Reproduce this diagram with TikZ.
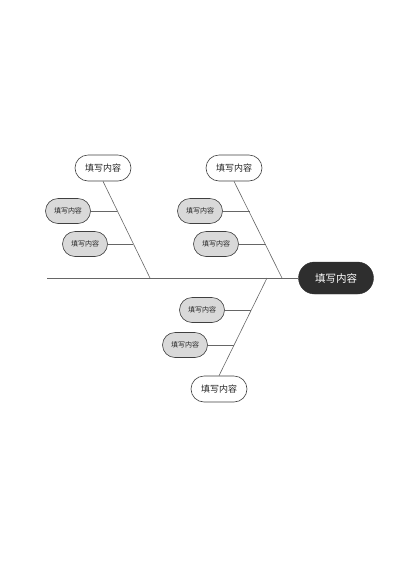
\documentclass[tikz,border=0pt]{standalone}
\usepackage{fontspec}
\newfontfamily\cjk{Noto Sans CJK SC}
\begin{document}
\begin{tikzpicture}[x=1pt,y=-1pt,
  bone/.style={draw=black!60, line width=0.6pt},
  cause/.style={draw=black!75, line width=0.6pt, fill=white, rounded corners=13pt,
    minimum width=56pt, minimum height=26pt, inner sep=0pt, font=\cjk\fontsize{9}{10}\selectfont, text=black!85},
  sub/.style={draw=black!75, line width=0.6pt, fill=black!15, rounded corners=12.5pt,
    minimum width=45pt, minimum height=25pt, inner sep=0pt, font=\cjk\fontsize{7}{8}\selectfont, text=black!85},
  headbox/.style={fill=black!82, draw=black!82, rounded corners=16pt,
    minimum width=75pt, minimum height=32pt, inner sep=0pt, font=\cjk\fontsize{10.5}{12}\selectfont, text=white}]
\useasboundingbox (0,0) rectangle (400,566);
% head
\node[headbox] (head) at (336,278) {填写内容};
\coordinate (tail) at (47,278);
\coordinate (j1) at (150,278);
\coordinate (j2) at (282,278);
\coordinate (j3) at (267,278);
\draw[bone] (tail) -- (head.west);
% top-left branch
\node[cause] (c1) at (103,168) {填写内容};
\draw[bone] (c1.south) -- (j1);
\node[sub] (s11) at (68,211) {填写内容};
\node[sub] (s12) at (85,244) {填写内容};
\coordinate (p11) at (117,211);
\coordinate (p12) at (133,244);
\draw[bone] (s11.east) -- (p11);
\draw[bone] (s12.east) -- (p12);
% top-right branch
\node[cause] (c2) at (234,168) {填写内容};
\draw[bone] (c2.south) -- (j2);
\node[sub] (s21) at (200,211) {填写内容};
\node[sub] (s22) at (216,244) {填写内容};
\coordinate (p21) at (249.5,211);
\coordinate (p22) at (265.5,244);
\draw[bone] (s21.east) -- (p21);
\draw[bone] (s22.east) -- (p22);
% bottom branch
\node[cause] (c3) at (219,389) {填写内容};
\draw[bone] (c3.north) -- (j3);
\node[sub] (s31) at (202,310) {填写内容};
\node[sub] (s32) at (185,345) {填写内容};
\coordinate (p31) at (251,310);
\coordinate (p32) at (234,345);
\draw[bone] (s31.east) -- (p31);
\draw[bone] (s32.east) -- (p32);
\end{tikzpicture}
\end{document}
